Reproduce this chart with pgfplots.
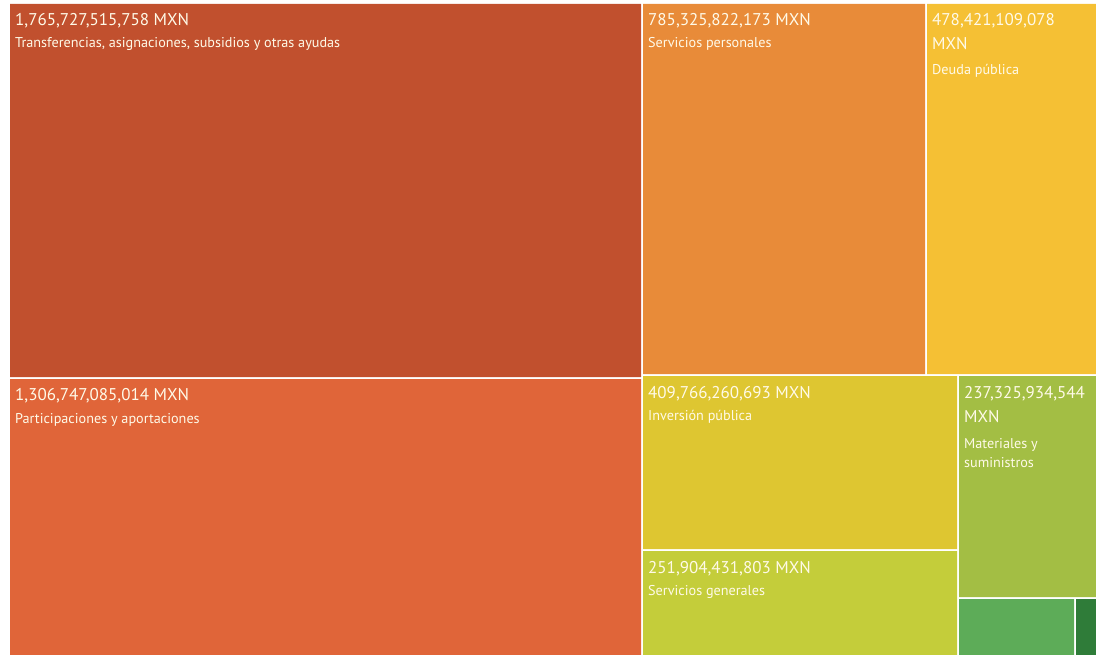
\documentclass[border=0pt]{standalone}
\usepackage{fontspec}
\setmainfont{PT Sans}
\usepackage{pgfplots}
\pgfplotsset{compat=1.18}
\definecolor{cA}{RGB}{193,80,46}
\definecolor{cB}{RGB}{224,101,57}
\definecolor{cC}{RGB}{232,139,57}
\definecolor{cD}{RGB}{245,192,52}
\definecolor{cE}{RGB}{222,198,49}
\definecolor{cF}{RGB}{196,205,58}
\definecolor{cG}{RGB}{163,190,68}
\definecolor{cH}{RGB}{93,172,88}
\definecolor{cI}{RGB}{47,124,57}
\definecolor{txt}{RGB}{255,250,232}
\newcommand{\val}{\fontsize{17}{19}\selectfont}
\newcommand{\lab}{\fontsize{14.2}{16}\selectfont}
\begin{document}
\begin{tikzpicture}
\begin{axis}[
  width=1096pt, height=655pt, scale only axis,
  xmin=0, xmax=1096, ymin=0, ymax=655, y dir=reverse,
  hide axis, clip=false,
]
\path (rel axis cs:0,0) rectangle (rel axis cs:1,1);
% treemap cells: corners in pixel units (x right, y down)
\addplot[fill=cA, draw=none] coordinates {(10,4) (641,4) (641,377) (10,377) (10,4)};
\addplot[fill=cB, draw=none] coordinates {(10,379) (641,379) (641,655) (10,655) (10,379)};
\addplot[fill=cC, draw=none] coordinates {(643,4) (925,4) (925,374) (643,374) (643,4)};
\addplot[fill=cD, draw=none] coordinates {(927,4) (1096,4) (1096,374) (927,374) (927,4)};
\addplot[fill=cE, draw=none] coordinates {(643,376) (957,376) (957,549) (643,549) (643,376)};
\addplot[fill=cF, draw=none] coordinates {(643,551) (957,551) (957,655) (643,655) (643,551)};
\addplot[fill=cG, draw=none] coordinates {(959,376) (1096,376) (1096,597) (959,597) (959,376)};
\addplot[fill=cH, draw=none] coordinates {(959,599) (1074,599) (1074,655) (959,655) (959,599)};
\addplot[fill=cI, draw=none] coordinates {(1076,599) (1096,599) (1096,655) (1076,655) (1076,599)};

\tikzset{every node/.style={anchor=base west, inner sep=0pt, text=txt}}
\node at (axis cs:15,26) {\val 1,765,727,515,758 MXN};
\node at (axis cs:15,48) {\lab Transferencias, asignaciones, subsidios y otras ayudas};
\node at (axis cs:15,400) {\val 1,306,747,085,014 MXN};
\node at (axis cs:15,423) {\lab Participaciones y aportaciones};
\node at (axis cs:648,26) {\val 785,325,822,173 MXN};
\node at (axis cs:648,48) {\lab Servicios personales};
\node at (axis cs:932,26) {\val 478,421,109,078};
\node at (axis cs:932,50) {\val MXN};
\node at (axis cs:932,75) {\lab Deuda pública};
\node at (axis cs:648,398) {\val 409,766,260,693 MXN};
\node at (axis cs:648,420) {\lab Inversión pública};
\node at (axis cs:648,573) {\val 251,904,431,803 MXN};
\node at (axis cs:648,595) {\lab Servicios generales};
\node at (axis cs:964,398) {\val 237,325,934,544};
\node at (axis cs:964,422) {\val MXN};
\node at (axis cs:964,448) {\lab Materiales y};
\node at (axis cs:964,467) {\lab suministros};
\end{axis}
\end{tikzpicture}
\end{document}
